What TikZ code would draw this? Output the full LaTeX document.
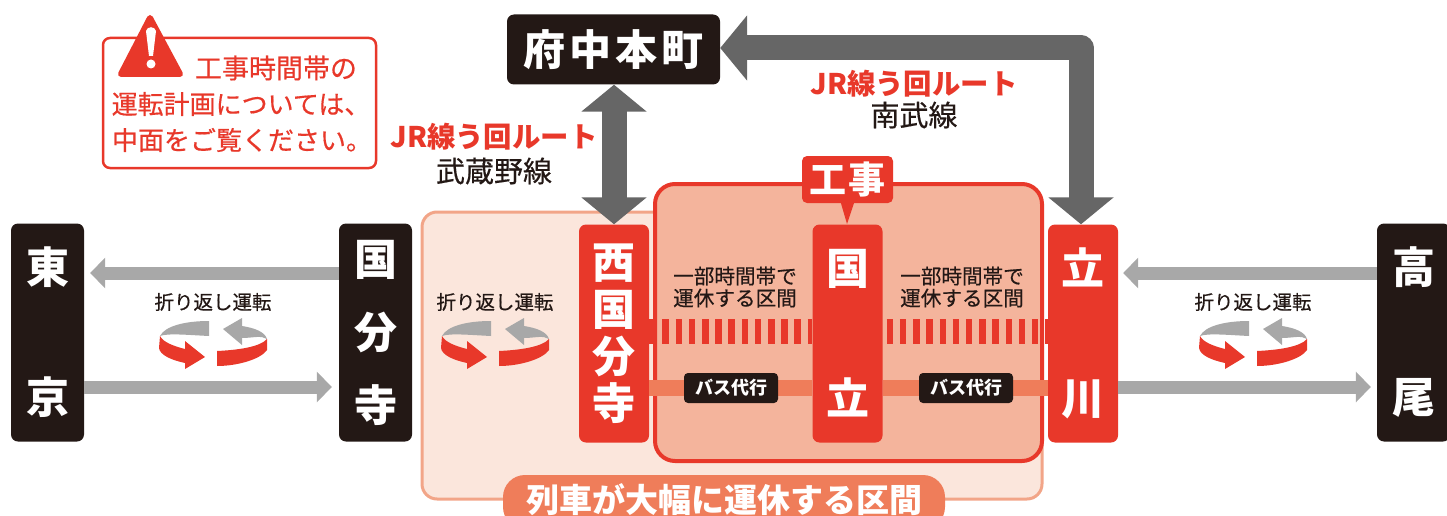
\documentclass[tikz,border=0pt]{standalone}
\usepackage{fontspec}
\usepackage{tikz}
\usetikzlibrary{arrows.meta}
\setmainfont{Noto Sans CJK JP}
\newfontfamily\mediumfont[FakeBold=0.4]{Noto Sans CJK JP}
\definecolor{kojired}{HTML}{E8382A}
\definecolor{kojiink}{HTML}{231815}
\definecolor{lightarrow}{HTML}{A8A8A8}
\definecolor{heavyarrow}{HTML}{666666}
\definecolor{outerfill}{HTML}{FBE6DC}
\definecolor{outerline}{HTML}{F2A588}
\definecolor{innerfill}{HTML}{F4B49C}
\definecolor{busline}{HTML}{EF7D5A}
\newcommand{\stationfont}[1]{\fontsize{43}{#1}\selectfont\bfseries}
\tikzset{
	stationbox/.style={rounded corners=7pt,inner sep=0pt,text=white,align=center,
		minimum width=70pt,minimum height=218pt},
	blackbox/.style={stationbox,fill=kojiink},
	redbox/.style={stationbox,fill=kojired},
	thinroute/.style={draw=lightarrow,line width=13pt,-{Triangle[length=15pt,width=30pt]}},
	thickroute/.style={draw=heavyarrow,line width=25pt,{Triangle[length=27pt,width=64pt]}-{Triangle[length=27pt,width=64pt]}},
	busbox/.style={fill=kojiink,text=white,rounded corners=4pt,inner sep=0pt,
		minimum width=94pt,minimum height=30pt,font=\fontsize{18}{22}\selectfont\bfseries},
	blackline/.style={text=kojiink,inner sep=0pt,align=center},
	redtitle/.style={text=kojired,inner sep=0pt,font=\fontsize{28.4}{32}\selectfont\bfseries},
	noticeline/.style={inner sep=0pt,text=kojired}
}
\begin{document}
\begin{tikzpicture}[x=1pt,y=-1pt]
	\useasboundingbox (0,0) rectangle (1447,516);
	\clip (0,0) rectangle (1447,516);
	% Areas
	\draw[draw=outerline,fill=outerfill,line width=3pt,rounded corners=15pt] (422,212) rectangle (1042,499);
	\draw[draw=kojired,fill=innerfill,line width=4pt,rounded corners=20pt] (655,184) rectangle (1042,461);
	\node[fill=busline,text=white,rounded corners=22pt,inner sep=0pt,minimum width=442pt,minimum height=54pt,
		font=\fontsize{33}{40}\selectfont\bfseries] (bigstop) at (724,502) {\raisebox{7pt}{列車が大幅に運休する区間}};
	% Stations
	\node[blackbox,minimum width=73pt,font=\stationfont{130}] (tokyo) at (47.5,332.5) {東\\京};
	\node[blackbox,minimum width=73pt,font=\stationfont{73}] (kokubunji) at (375.5,332.5) {国\\分\\寺};
	\node[redbox,font=\stationfont{47}] (nishikoku) at (614,333.5) {西\\国\\分\\寺};
	\node[redbox,font=\stationfont{130}] (kunitachi) at (847.5,333.5) {国\\立};
	\node[redbox,font=\stationfont{130}] (tachikawa) at (1083,333.5) {立\\川};
	\node[blackbox,minimum width=73pt,font=\stationfont{130}] (takao) at (1413.5,332.5) {高\\尾};
	\node[fill=kojiink,text=white,rounded corners=7pt,inner sep=0pt,minimum width=213pt,minimum height=70pt,
		font=\fontsize{42}{48}\selectfont\bfseries] (fuchuhonmachi) at (613.5,49.5) {府\kern4pt 中\kern4pt 本\kern4pt 町};
	% Levels of the lines
	\coordinate (stoplevel) at (0,331);
	\coordinate (buslevel) at (0,388);
	\coordinate (uplevel) at (0,273);
	\coordinate (downlevel) at (0,387);
	\coordinate (nanbucorner) at (1081,48);
	% Stopped and bus sections
	\draw[draw=kojired,line width=25pt,dash pattern=on 6.5pt off 6.7pt] (nishikoku.east |- stoplevel) -- (kunitachi.west |- stoplevel);
	\draw[draw=kojired,line width=25pt,dash pattern=on 6.5pt off 6.7pt,dash phase=9.2pt] (kunitachi.east |- stoplevel) -- (tachikawa.west |- stoplevel);
	\draw[draw=busline,line width=16pt] (nishikoku.east |- buslevel) -- (kunitachi.west |- buslevel);
	\draw[draw=busline,line width=16pt] (kunitachi.east |- buslevel) -- (tachikawa.west |- buslevel);
	\node[busbox] (busleft) at (731,388) {バス代行};
	\node[busbox] (busright) at (966,388) {バス代行};
	% Through lines
	\draw[thinroute,shorten >=6pt] (kokubunji.west |- uplevel) -- (tokyo.east |- uplevel);
	\draw[thinroute,shorten >=7pt] (tokyo.east |- downlevel) -- (kokubunji.west |- downlevel);
	\draw[thinroute,shorten >=5pt] (takao.west |- uplevel) -- (tachikawa.east |- uplevel);
	\draw[thinroute,shorten >=6pt] (tachikawa.east |- downlevel) -- (takao.west |- downlevel);
	% JR detours
	\draw[thickroute] (fuchuhonmachi.south -| nishikoku.north) -- (nishikoku.north);
	\draw[draw=heavyarrow,line width=25pt,line join=round,{Triangle[length=27pt,width=64pt]}-{Triangle[length=27pt,width=64pt]}]
		(fuchuhonmachi.east |- nanbucorner) -- (nanbucorner) -- (nanbucorner |- tachikawa.north);
	\node[redtitle] (jrleft) at (494,137) {JR線う回ルート};
	\node[blackline,font=\fontsize{29}{32}\selectfont\mediumfont] (musashino) at (494,171) {武蔵野線};
	\node[redtitle] (jrright) at (914,84) {JR線う回ルート};
	\node[blackline,font=\fontsize{29}{32}\selectfont\mediumfont] (nanbu) at (914,115) {南武線};
	% Works tag
	\fill[kojired] (840,200) -- (847,224) -- (855,200) -- cycle;
	\node[fill=kojired,text=white,rounded corners=5pt,inner sep=0pt,minimum width=91pt,minimum height=47pt,
		font=\fontsize{37}{42}\selectfont\bfseries] (works) at (847.5,179.5) {工\kern2pt 事};
	% Sections
	\foreach \cx/\nm in {735/partleft,962/partright}
		\node[blackline,font=\fontsize{20.6}{22}\selectfont\mediumfont] (\nm) at (\cx,287) {一部時間帯で\\運休する区間};
	\foreach \cx in {213,495,1253}{
		\node[blackline,font=\fontsize{19.5}{22}\selectfont\mediumfont] (turn\cx) at (\cx,302) {折り返し運転};
		\begin{scope}[shift={(\cx,343)}]
			\fill[lightarrow] (-4,-22) .. controls (-28,-22) and (-48,-17) .. (-53,-7) .. controls (-45,-10) and (-25,-8) .. (-4,-7) -- cycle;
			\fill[kojired] (-53,-7) .. controls (-50,-1) and (-40,3) .. (-28,6) -- (-28,-2) -- (-8,14) -- (-28,26) -- (-28,20)
				.. controls (-42,17) and (-53,12) .. (-54,5) -- cycle;
			\fill[lightarrow] (10,-14) -- (29,-25) -- (29,-17) .. controls (42,-15) and (52,-11) .. (54,-4)
				.. controls (48,-8) and (40,-5) .. (29,-5) -- (29,2) -- cycle;
			\fill[kojired] (4,8) .. controls (25,7) and (47,4) .. (54,-4) -- (54,7) .. controls (48,16) and (25,23) .. (4,23) -- cycle;
		\end{scope}
	}
	% Notice
	\draw[draw=kojired,fill=white,line width=2.5pt,rounded corners=7pt] (103,38) rectangle (376,168);
	\filldraw[draw=kojired,fill=kojired,line width=6pt,line join=round] (150,18) -- (121,74) -- (180,74) -- cycle;
	\fill[white] (146,31) .. controls (147,26) and (155,26) .. (156,31) -- (153,56) -- (149,56) -- cycle;
	\fill[white] (151,64) circle (4.5);
	\node[noticeline,font=\fontsize{27}{32}\selectfont\mediumfont] (noticetop) at (276,68) {工事時間帯の};
	\node[noticeline,font=\fontsize{26}{32}\selectfont\mediumfont] (noticemid) at (241,104) {運転計画については、};
	\node[noticeline,font=\fontsize{26}{32}\selectfont\mediumfont] (noticelow) at (242,140) {中面をご覧ください。};
\end{tikzpicture}
\end{document}
